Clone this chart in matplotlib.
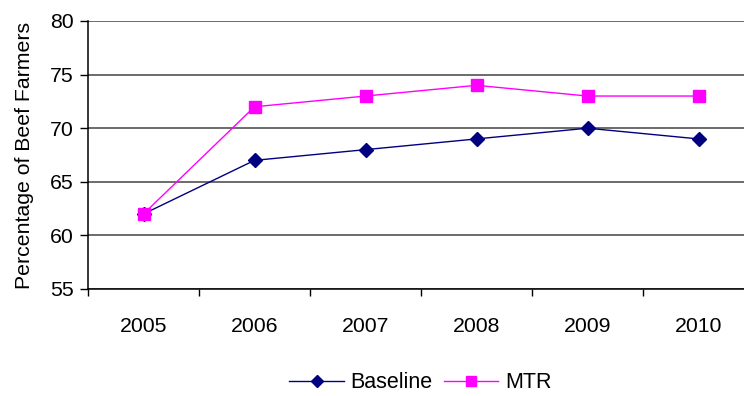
import numpy as np
import matplotlib
matplotlib.use('Agg')
from matplotlib import pyplot as plt

plt.rcParams['font.family'] = ['Liberation Sans', 'DejaVu Sans']

years = ['2005', '2006', '2007', '2008', '2009', '2010']
baseline = [62, 67, 68, 69, 70, 69]
mtr = [62, 72, 73, 74, 73, 73]

fig = plt.figure(figsize=(7.44, 3.96), dpi=100)
# plot area runs off the right edge, as in the source
ax = fig.add_axes([88 / 744, 1 - 289 / 396, 666 / 744, 268 / 396])

x = np.arange(len(years))
ax.plot(x, baseline, color='#000080', lw=1, marker='D', ms=7, mfc='#000080', mec='#000080', label='Baseline', zorder=3)
ax.plot(x, mtr, color='#FF00FF', lw=1, marker='s', ms=8, mfc='#FF00FF', mec='#FF00FF', label='MTR', zorder=3)

ax.set_xlim(-0.5, len(years) - 0.5)
ax.set_ylim(55, 80)
ax.set_yticks([55, 60, 65, 70, 75, 80])
ax.yaxis.grid(True, color='#606060', lw=1.3)
ax.set_axisbelow(True)

ax.set_xticks(x)
ax.set_xticklabels(years, fontsize=15.3)
ax.tick_params(axis='x', length=0, pad=20)
ax.set_xticks(np.arange(-0.5, len(years)), minor=True)
ax.tick_params(axis='x', which='minor', length=5, width=1, direction='out')
ax.tick_params(axis='y', labelsize=15.3, length=6, width=1, direction='out', pad=4)

for s in ['top', 'right']:
    ax.spines[s].set_visible(False)
for s in ['left', 'bottom']:
    ax.spines[s].set_linewidth(1.1)

ax.set_ylabel('Percentage of Beef Farmers', fontsize=15.3, labelpad=12)

fig.legend(loc='center', bbox_to_anchor=(0.565, 1 - 383 / 396), ncol=2, frameon=False,
           fontsize=15.5, handlelength=2.55, columnspacing=0.5, handletextpad=0.3,
           markerscale=0.85)

fig.savefig('out.png', dpi=100)
